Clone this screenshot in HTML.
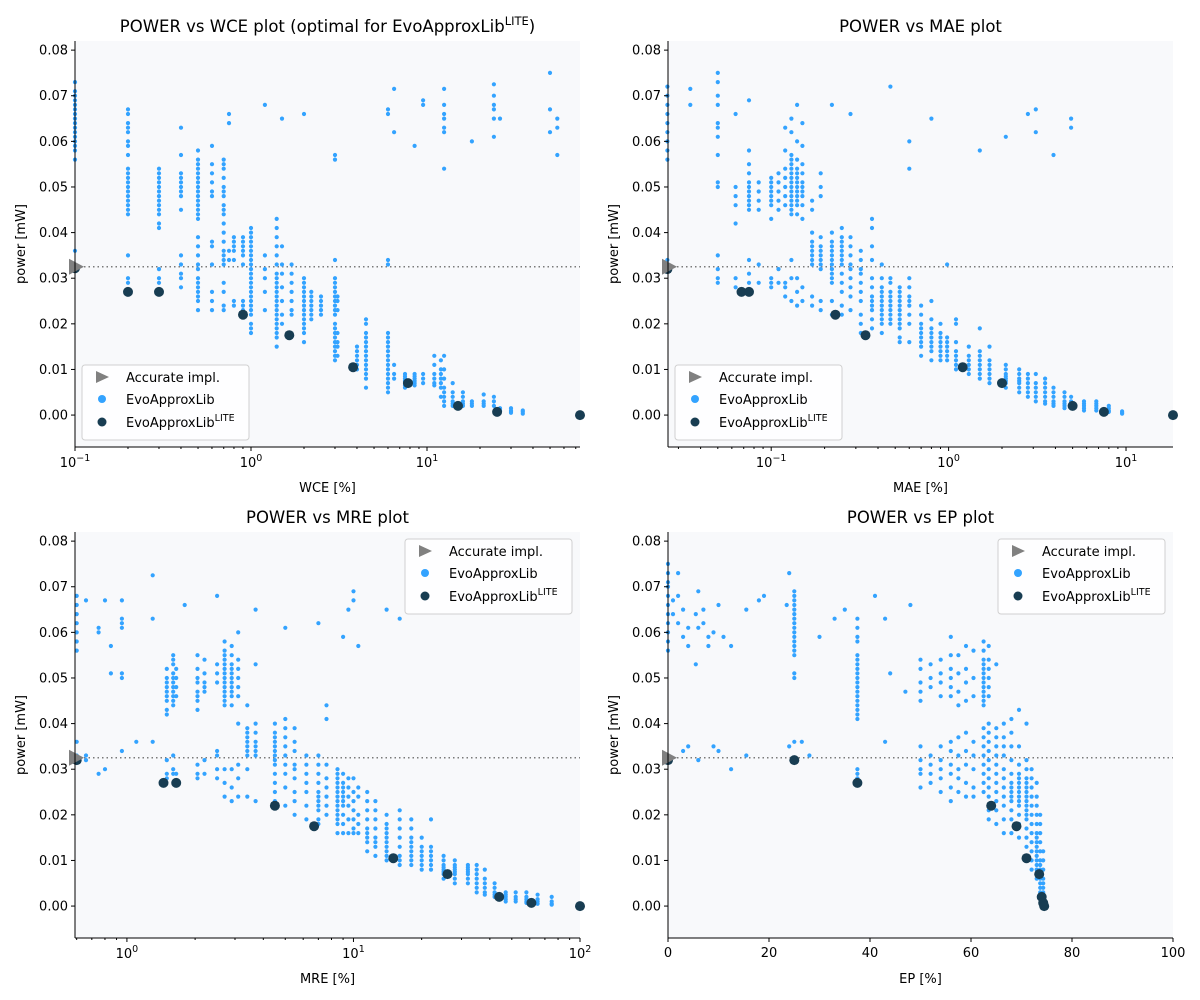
<!DOCTYPE html>
<html><head><meta charset="utf-8">
<style>
html,body{margin:0;padding:0;background:#fff;}
svg{display:block;font-family:"DejaVu Sans","Liberation Sans",sans-serif;}
</style></head>
<body>
<svg id="fig" width="1200" height="1000" viewBox="0 0 1200 1000" xmlns="http://www.w3.org/2000/svg"></svg>
<script>
const yTicks = [0.00,0.01,0.02,0.03,0.04,0.05,0.06,0.07,0.08];
const accuratePower = 0.0325;

const wceCols = [
[0.1,[.056,.058,.059,.060,.061,.062,.063,.064,.065,.066,.067,.068,.069,.070,.071,.073,.036]],
[0.2,[.044,.045,.046,.047,.048,.049,.050,.051,.052,.053,.054,.057,.059,.060,.062,.063,.064,.066,.067,.035,.030,.029]],
[0.3,[.041,.042,.044,.045,.046,.047,.048,.049,.050,.051,.052,.053,.054,.032,.030,.029]],
[0.4,[.063,.057,.053,.052,.051,.050,.049,.048,.045,.035,.033,.031,.030,.028]],
[0.5,[.043,.044,.045,.046,.047,.048,.049,.050,.051,.052,.053,.054,.055,.056,.058,.039,.037,.035,.033,.032,.030,.029,.028,.027,.026,.025,.023]],
[0.6,[.059,.055,.053,.051,.049,.048,.038,.037,.033,.027,.025,.023]],
[0.7,[.056,.055,.054,.052,.050,.049,.048,.046,.045,.044,.042,.040,.038,.036,.035,.034,.033,.029,.027,.024,.023]],
[0.75,[.066,.064,.036,.034]],
[0.8,[.039,.038,.037,.036,.034,.025,.024]],
[0.9,[.039,.038,.037,.036,.035,.033,.025,.024,.023]],
[1.0,[.041,.040,.039,.038,.037,.036,.035,.034,.033,.032,.031,.030,.029,.028,.027,.026,.025,.024,.023,.022,.020,.019,.018]],
[1.2,[.068,.035,.032,.030,.027,.023]],
[1.4,[.043,.041,.039,.037,.035,.033,.031,.030,.029,.028,.027,.026,.025,.024,.023,.022,.021,.020,.019,.018,.017,.015]],
[1.5,[.065,.037,.033,.031,.028,.025,.022,.020]],
[1.7,[.033,.031,.029,.027,.025,.023,.022]],
[2.0,[.066,.030,.029,.028,.027,.026,.025,.024,.023,.022,.021,.020,.019,.018,.016]],
[2.2,[.027,.026,.025,.024,.023,.022,.021]],
[2.5,[.026,.025,.024,.023,.022]],
[3.0,[.057,.056,.034,.030,.029,.028,.027,.026,.025,.024,.023,.022,.020,.019,.018,.017,.016,.015,.014,.013,.012]],
[3.1,[.026,.025,.023,.018,.016,.015,.013]],
[4.0,[.015,.014,.013,.012,.011,.010]],
[4.5,[.021,.020,.018,.017,.016,.015,.014,.013,.012,.011,.010,.009,.008,.006]],
[6.0,[.067,.066,.034,.033,.018,.017,.016,.015,.014,.013,.012,.011,.010,.009,.008,.007,.006,.005]],
[6.5,[.0715,.062,.011,.009,.008]],
[7.5,[.009,.0085,.008,.0075,.007,.0065,.006]],
[8.5,[.059,.009,.0085,.008,.0075,.007,.0065]],
[9.5,[.069,.068,.009,.008,.007]],
[11,[.013,.011,.009,.008,.007,.0065]],
[12,[.012,.010,.009,.008,.007,.006,.004]],
[12.5,[.0715,.068,.066,.065,.063,.062,.054,.013,.010,.008,.006,.005,.004,.003,.002]],
[14,[.007,.005,.004,.003,.0025,.002]],
[16,[.005,.004,.003,.0025,.002]],
[18,[.060,.003,.0025,.002]],
[21,[.0045,.003,.0025,.002]],
[24,[.0725,.070,.068,.067,.065,.061,.004,.003,.002]],
[26,[.065,.0015,.001,.0008]],
[30,[.0015,.001,.0008,.0005]],
[35,[.001,.0007,.0003]],
[50,[.075,.067,.062]],
[55,[.063,.065,.057]]
];
const wceLiteX = [0.1,0.2,0.3,0.9,1.65,3.8,7.8,15,25,74];
const wceLiteY = [0.0322,0.027,0.027,0.022,0.0175,0.0105,0.007,0.002,0.0007,0];

const maeCols = [
[0.026,[.056,.058,.060,.062,.064,.066,.068,.070,.072,.034,.032]],
[0.035,[.0715,.068]],
[0.05,[.075,.073,.070,.068,.064,.063,.061,.057,.051,.050,.035,.032,.030,.029]],
[0.063,[.050,.048,.046,.042,.066,.030,.028]],
[0.075,[.069,.058,.055,.053,.051,.050,.049,.048,.047,.046,.045,.034,.031,.029]],
[0.085,[.051,.049,.047,.045,.033,.029]],
[0.1,[.052,.051,.050,.049,.048,.047,.046,.043,.030,.029,.028]],
[0.11,[.053,.051,.049,.047,.045,.032,.029]],
[0.12,[.063,.058,.054,.052,.050,.048,.046,.029,.028,.026]],
[0.13,[.065,.062,.057,.056,.055,.054,.053,.052,.051,.050,.049,.048,.047,.046,.045,.044,.034,.030,.025]],
[0.14,[.068,.060,.056,.054,.053,.052,.051,.050,.049,.048,.047,.046,.044,.030,.027,.024]],
[0.15,[.064,.059,.055,.053,.051,.050,.049,.048,.046,.043,.028,.025]],
[0.17,[.047,.045,.040,.038,.037,.036,.035,.034,.033,.026,.024]],
[0.19,[.053,.050,.048,.039,.037,.036,.035,.034,.033,.032,.025,.023]],
[0.22,[.068,.040,.038,.037,.036,.035,.034,.033,.032,.031,.030,.029,.025,.022]],
[0.25,[.041,.039,.038,.037,.036,.035,.034,.033,.031,.029,.027,.024,.022]],
[0.28,[.066,.039,.037,.035,.033,.032,.030,.028,.026,.023]],
[0.32,[.036,.034,.032,.031,.029,.027,.025,.022,.020,.018]],
[0.37,[.043,.041,.037,.034,.030,.028,.026,.025,.024,.023,.021,.019]],
[0.42,[.033,.030,.028,.027,.026,.025,.024,.023,.022,.021,.020,.018]],
[0.47,[.072,.030,.029,.027,.026,.025,.024,.023,.022,.021,.020]],
[0.53,[.028,.027,.026,.025,.024,.023,.022,.021,.020,.019,.017,.016]],
[0.6,[.060,.054,.030,.028,.026,.025,.024,.022,.020,.016]],
[0.7,[.024,.022,.020,.019,.018,.017,.016,.015,.013]],
[0.8,[.065,.025,.021,.019,.018,.017,.016,.015,.014,.012]],
[0.9,[.020,.018,.017,.016,.015,.014,.013,.012]],
[0.98,[.033,.017,.016,.015,.014,.013,.012]],
[1.1,[.021,.020,.016,.014,.013,.012,.011,.010]],
[1.3,[.015,.013,.012,.011,.010,.009]],
[1.5,[.058,.019,.014,.013,.012,.011,.010,.009,.008]],
[1.7,[.015,.012,.011,.010,.009,.008,.007]],
[2.1,[.061,.011,.010,.009,.0085,.008,.0075,.007,.006]],
[2.5,[.010,.009,.008,.0075,.007,.006,.005]],
[2.8,[.066,.009,.008,.007,.006,.005,.004]],
[3.1,[.067,.062,.009,.007,.006,.005,.004,.003]],
[3.5,[.008,.007,.006,.005,.004,.003,.0025]],
[3.9,[.057,.006,.005,.004,.003,.0025,.002]],
[4.5,[.005,.004,.003,.0025,.002,.0015]],
[4.9,[.065,.063,.004,.003,.002,.0015]],
[5.8,[.003,.0025,.002,.0015,.001]],
[6.8,[.003,.0025,.002,.0015,.001]],
[8,[.002,.0015,.001,.0007]],
[9.5,[.0008,.0005,.0003]]
];
const maeLiteX = [0.026,0.068,0.075,0.23,0.34,1.2,2.0,5,7.5,18.4];
const maeLiteY = [0.032,0.027,0.027,0.022,0.0175,0.0105,0.007,0.002,0.0007,0];

const mreCols = [
[0.6,[.056,.058,.060,.062,.064,.066,.068,.036,.033]],
[0.66,[.067,.033,.032]],
[0.75,[.061,.060,.029]],
[0.8,[.067,.030]],
[0.85,[.051,.057]],
[0.95,[.067,.063,.062,.061,.051,.050,.034]],
[1.1,[.036]],
[1.3,[.0725,.063,.036]],
[1.5,[.052,.050,.049,.048,.047,.046,.045,.043,.042,.032,.029,.028]],
[1.6,[.055,.054,.053,.051,.050,.049,.048,.047,.046,.045,.044,.033,.030,.029]],
[1.65,[.052,.050,.048,.046,.029]],
[1.8,[.066]],
[2.05,[.055,.052,.050,.049,.047,.046,.045,.043,.031,.029,.028]],
[2.2,[.054,.051,.049,.048,.047,.032,.029]],
[2.5,[.068,.053,.051,.049,.034,.033,.030,.028]],
[2.7,[.058,.056,.055,.054,.053,.052,.051,.050,.049,.048,.047,.046,.045,.044,.030,.027,.024]],
[2.9,[.057,.055,.053,.052,.051,.050,.049,.048,.047,.046,.044,.030,.026,.023]],
[3.1,[.060,.054,.052,.050,.048,.046,.040,.031,.028,.024]],
[3.4,[.044,.039,.038,.037,.036,.035,.034,.033,.030,.024]],
[3.7,[.065,.053,.040,.038,.036,.035,.034,.033,.023]],
[4.5,[.040,.038,.037,.036,.035,.034,.033,.032,.031,.029,.027,.025,.023]],
[5,[.061,.041,.039,.037,.035,.033,.031,.029,.026,.022]],
[5.5,[.039,.036,.034,.031,.030,.028,.025,.023,.020]],
[6.2,[.033,.031,.029,.027,.025,.022,.019]],
[7,[.062,.033,.031,.029,.027,.025,.024,.023,.022,.021,.019,.018]],
[7.6,[.044,.041,.031,.028,.026,.024,.022,.020]],
[8.5,[.030,.029,.028,.027,.026,.025,.024,.023,.022,.021,.020,.019,.018,.016]],
[9,[.059,.029,.027,.026,.025,.024,.023,.022,.020,.018,.016]],
[9.5,[.065,.028,.026,.024,.022,.019,.016]],
[10,[.069,.067,.028,.025,.023,.021,.019,.017,.016]],
[10.5,[.057,.026,.024,.020,.018,.016]],
[11.5,[.025,.023,.021,.019,.017,.016,.015,.014,.012]],
[12.5,[.023,.021,.019,.017,.015,.014,.013,.011]],
[14,[.065,.020,.018,.017,.016,.015,.014,.013,.012,.011,.010]],
[16,[.063,.021,.019,.017,.015,.013,.011,.010,.009]],
[18,[.019,.017,.015,.014,.013,.012,.011,.010,.009]],
[20,[.015,.013,.012,.011,.010,.009,.008]],
[22,[.019,.013,.012,.011,.010,.009,.008]],
[25,[.011,.010,.009,.0085,.008,.0075,.007,.006]],
[28,[.010,.009,.0085,.008,.0075,.007,.006,.005]],
[32,[.009,.0085,.008,.0075,.007,.006,.005]],
[35,[.009,.008,.007,.006,.005,.004,.003]],
[38,[.008,.006,.005,.004,.003,.0025]],
[42,[.005,.004,.003,.0025,.002]],
[47,[.003,.0025,.002,.0015,.001]],
[52,[.003,.002,.0015,.001]],
[58,[.003,.002,.0015,.001,.0007]],
[65,[.0025,.0015,.001,.0005]],
[75,[.002,.001,.0005,.0003]]
];
const mreLiteX = [0.6,1.45,1.65,4.5,6.7,15,26,44,61,100];
const mreLiteY = [0.032,0.027,0.027,0.022,0.0175,0.0105,0.007,0.002,0.0007,0];

const epCols = [
[0,[.056,.058,.060,.062,.064,.066,.068,.070,.071,.073,.075,.033,.032]],
[1,[.067,.064]],[2,[.073,.068,.062]],[3,[.059,.065,.034]],[4,[.061,.057,.035]],[5.5,[.053,.064]],[6,[.069,.061,.032]],[7,[.065,.062]],[8,[.057,.059]],[9,[.060,.035]],[10,[.066,.034]],[11,[.059]],[12.5,[.057,.030]],
[15.5,[.065,.033]],[18,[.067]],[19,[.068]],[23.5,[.066]],[24,[.073,.035]],
[25,[.069,.068,.067,.066,.065,.064,.063,.062,.061,.060,.059,.058,.057,.056,.055,.051,.050,.036]],
[26.5,[.036]],[28,[.033]],[30,[.059]],[33,[.063]],[35,[.065]],
[37.5,[.063,.061,.059,.058,.055,.054,.053,.052,.051,.050,.049,.048,.047,.046,.045,.044,.043,.042,.041,.030,.029,.028]],
[41,[.068]],[43,[.063,.036]],[44,[.051]],[47,[.047]],[48,[.066]],
[50,[.054,.052,.049,.047,.045,.035,.032,.030,.029,.026]],
[52,[.053,.050,.048,.033,.031,.029,.027]],
[54,[.054,.051,.049,.046,.035,.032,.030,.028,.025]],
[56,[.059,.055,.052,.050,.048,.046,.036,.034,.031,.029,.026,.023]],
[57.5,[.055,.051,.047,.044,.037,.033,.030,.028,.025]],
[59,[.057,.052,.049,.045,.038,.034,.031,.027,.024]],
[60.5,[.056,.050,.046,.036,.033,.030,.026,.024]],
[62.5,[.058,.056,.054,.053,.052,.051,.050,.049,.048,.047,.046,.045,.044,.039,.037,.035,.033,.031,.029,.027,.025]],
[63.5,[.057,.054,.052,.050,.048,.046,.040,.038,.036,.034,.032,.030,.028,.026,.024,.021,.019]],
[65,[.053,.039,.037,.035,.033,.031,.029,.027,.025,.023,.021,.018]],
[66.5,[.040,.037,.035,.033,.030,.028,.026,.024,.022,.019,.016]],
[68,[.041,.038,.035,.032,.029,.027,.026,.025,.024,.023,.021,.019,.016]],
[69.5,[.043,.035,.031,.029,.028,.027,.026,.025,.024,.023,.022,.020,.018,.015]],
[71,[.040,.032,.030,.028,.027,.026,.025,.024,.023,.022,.021,.020,.019,.017,.015,.013]],
[72,[.030,.028,.026,.024,.022,.020,.018,.016,.014,.012,.010,.008]],
[73,[.027,.024,.022,.020,.018,.016,.015,.014,.013,.012,.011,.010,.009,.008,.007,.006]],
[73.7,[.020,.018,.016,.014,.012,.010,.009,.008,.007,.006,.005,.004,.003]],
[74.3,[.012,.010,.008,.006,.005,.004,.003,.002,.001,.0005,.0002]]
];
const epLiteX = [0,25,37.5,64,69,71,73.5,74,74.3,74.5];
const epLiteY = [0.032,0.032,0.027,0.022,0.0175,0.0105,0.007,0.002,0.0007,0];
const epTicks = [0,20,40,60,80,100];

const NS = "http://www.w3.org/2000/svg";
const fig = document.getElementById('fig');
function mk(tag, attrs, parent){
  const e = document.createElementNS(NS, tag);
  for (const k in attrs) e.setAttribute(k, attrs[k]);
  (parent||fig).appendChild(e);
  return e;
}
const BLUE = '#33a3ff', DARK = '#183d52';

function makePanel(cfg){
  const L = cfg.left, T = cfg.top, W = 505, H = 406;
  const g = mk('g', {});
  
  
  const yMin = -0.0070, yMax = 0.0820;
  const ys = v => T + H - (v - yMin) / (yMax - yMin) * H;
  let xs;
  if (cfg.log) {
    const a = Math.log10(cfg.xmin), b = Math.log10(cfg.xmax);
    xs = v => L + (Math.log10(v) - a) / (b - a) * W;
  } else {
    xs = v => L + (v - cfg.xmin) / (cfg.xmax - cfg.xmin) * W;
  }
  const bg = mk('rect', {x:L, y:T, width:W, height:H, fill:'#f8f9fb'}, g);
  
  
  // accurate line
  const al = mk('line', {x1:L, x2:L+W, y1:ys(accuratePower), y2:ys(accuratePower), stroke:'#7a7a7a', 'stroke-width':1.5, 'stroke-dasharray':'1.5,3'}, g);
  
  
  // points
  const pg = mk('g', {fill:BLUE}, g);
  
  
  cfg.cols.forEach(c => {
    c[1].forEach(v => {
      const p = mk('circle', {cx:xs(c[0]).toFixed(1), cy:ys(v).toFixed(1), r:2.1}, pg);
      
      
    });
  });
  const lg = mk('g', {fill:DARK}, g);
  
  
  cfg.liteX.forEach((x, i) => {
    const p = mk('circle', {cx:xs(x).toFixed(1), cy:ys(cfg.liteY[i]).toFixed(1), r:5}, lg);
    
    
  });
  // accurate triangle
  const ty = ys(accuratePower), tx = L - 6;
  const tri = mk('polygon', {points:`${tx},${ty-8} ${tx+15},${ty} ${tx},${ty+8}`, fill:'#808080'}, g);
  
  
  // spines
  mk('line', {x1:L, x2:L, y1:T, y2:T+H, stroke:'#000', 'stroke-width':1}, g);
  mk('line', {x1:L, x2:L+W, y1:T+H, y2:T+H, stroke:'#000', 'stroke-width':1}, g);
  // y ticks
  yTicks.forEach(v => {
    const y = ys(v);
    mk('line', {x1:L-4, x2:L, y1:y, y2:y, stroke:'#000'}, g);
    const t = mk('text', {x:L-7, y:y+4.5, 'text-anchor':'end', 'font-size':13}, g);
    t.textContent = v.toFixed(2);
    
    
  });
  // x ticks
  if (cfg.log) {
    const e0 = Math.floor(Math.log10(cfg.xmin)), e1 = Math.ceil(Math.log10(cfg.xmax));
    for (let e = e0; e <= e1; e++) {
      for (let m = 1; m < 10; m++) {
        const v = m * Math.pow(10, e);
        if (v < cfg.xmin * 0.999 || v > cfg.xmax * 1.001) continue;
        const x = xs(v);
        mk('line', {x1:x, x2:x, y1:T+H, y2:T+H+(m===1?4:2), stroke:'#000'}, g);
        if (m === 1) {
          const t = mk('text', {x:x, y:T+H+20, 'text-anchor':'middle', 'font-size':13}, g);
          
          
          const a = mk('tspan', {}, t); a.textContent = '10';
          const b = mk('tspan', {dy:-6, 'font-size':9.5}, t); b.textContent = (e < 0 ? '\u2212' : '') + Math.abs(e);
        }
      }
    }
  } else {
    cfg.ticks.forEach(v => {
      const x = xs(v);
      mk('line', {x1:x, x2:x, y1:T+H, y2:T+H+4, stroke:'#000'}, g);
      const t = mk('text', {x:x, y:T+H+19, 'text-anchor':'middle', 'font-size':13}, g);
      t.textContent = v;
      
      
    });
  }
  const xl = mk('text', {x:L+W/2, y:T+H+45, 'text-anchor':'middle', 'font-size':13}, g);
  xl.textContent = cfg.xlabel;
  
  
  const yl = mk('text', {x:0, y:0, 'text-anchor':'middle', 'font-size':13, transform:`translate(${L-50},${T+H/2}) rotate(-90)`}, g);
  yl.textContent = 'power [mW]';
  
  
  const tt = mk('text', {x:L+W/2, y:T-9, 'text-anchor':'middle', 'font-size':16.5}, g);
  
  
  if (cfg.titleLite) {
    const a = mk('tspan', {}, tt); a.textContent = cfg.title;
    const b = mk('tspan', {dy:-7, 'font-size':11.5}, tt); b.textContent = 'LITE';
    const c = mk('tspan', {dy:7}, tt); c.textContent = ')';
  } else tt.textContent = cfg.title;
  // legend
  const lx = cfg.legX, ly = cfg.legY;
  const leg = mk('g', {}, g);
  
  
  mk('rect', {x:lx, y:ly, width:167, height:75, rx:3, fill:'#ffffff', 'fill-opacity':0.85, stroke:'#d0d0d0'}, leg);
  const mx = lx + 20;
  mk('polygon', {points:`${mx-6},${ly+6} ${mx+7},${ly+12} ${mx-6},${ly+18}`, fill:'#808080'}, leg);
  mk('circle', {cx:mx, cy:ly+34, r:4, fill:BLUE}, leg);
  mk('circle', {cx:mx, cy:ly+57, r:4.5, fill:DARK}, leg);
  const e1 = mk('text', {x:lx+44, y:ly+17, 'font-size':13}, leg); e1.textContent = 'Accurate impl.';
   
  const e2 = mk('text', {x:lx+44, y:ly+39, 'font-size':13}, leg); e2.textContent = 'EvoApproxLib';
   
  const e3 = mk('text', {x:lx+44, y:ly+62, 'font-size':13}, leg);
   
  const s1 = mk('tspan', {}, e3); s1.textContent = 'EvoApproxLib';
  const s2 = mk('tspan', {dy:-6, 'font-size':9.5}, e3); s2.textContent = 'LITE';
}

makePanel({name:'power-vs-wce-panel', left:75, top:41, log:true, xmin:0.1, xmax:74, cols:wceCols, liteX:wceLiteX, liteY:wceLiteY, xlabel:'WCE [%]', title:'POWER vs WCE plot (optimal for EvoApproxLib', titleLite:true, legX:82, legY:365});
makePanel({name:'power-vs-mae-panel', left:668, top:41, log:true, xmin:0.0262, xmax:18.4, cols:maeCols, liteX:maeLiteX, liteY:maeLiteY, xlabel:'MAE [%]', title:'POWER vs MAE plot', legX:675, legY:365});
makePanel({name:'power-vs-mre-panel', left:75, top:532, log:true, xmin:0.59, xmax:100, cols:mreCols, liteX:mreLiteX, liteY:mreLiteY, xlabel:'MRE [%]', title:'POWER vs MRE plot', legX:405, legY:539});
makePanel({name:'power-vs-ep-panel', left:668, top:532, log:false, xmin:0, xmax:100, ticks:epTicks, cols:epCols, liteX:epLiteX, liteY:epLiteY, xlabel:'EP [%]', title:'POWER vs EP plot', legX:998, legY:539});
</script>
</body></html>
